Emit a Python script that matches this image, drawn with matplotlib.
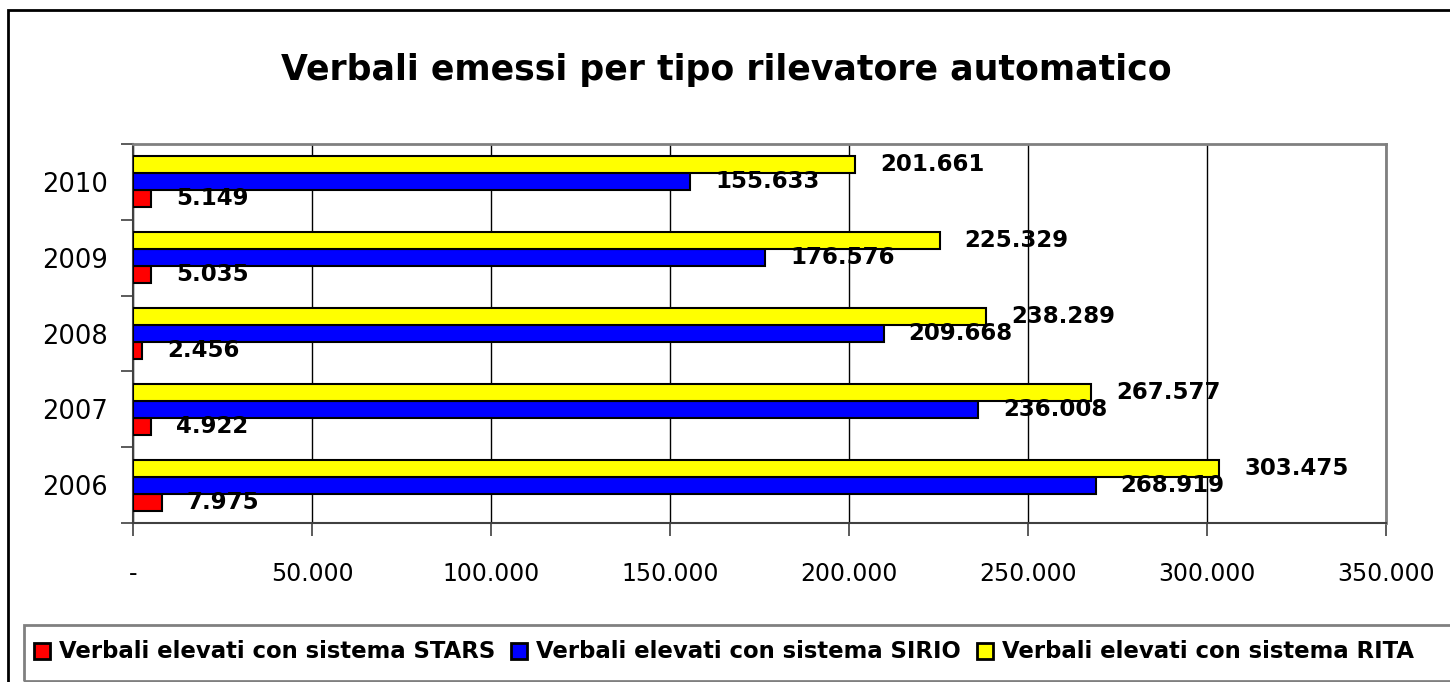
import matplotlib
matplotlib.use("Agg")
import matplotlib.pyplot as plt
from matplotlib.patches import Rectangle
from matplotlib.ticker import FuncFormatter
import numpy as np

# dati
anni = ["2006", "2007", "2008", "2009", "2010"]
stars = [7975, 4922, 2456, 5035, 5149]
sirio = [268919, 236008, 209668, 176576, 155633]
rita = [303475, 267577, 238289, 225329, 201661]

serie = [
    ("Verbali elevati con sistema STARS", stars, "#FF0000"),
    ("Verbali elevati con sistema SIRIO", sirio, "#0000FF"),
    ("Verbali elevati con sistema RITA", rita, "#FFFF00"),
]


def fmt_it(v):
    return f"{int(v):,}".replace(",", ".")


plt.rcParams["font.family"] = ["DejaVu Sans"]

fig = plt.figure(figsize=(14.5, 6.82), dpi=100)
ax = fig.add_axes([133 / 1450, 1 - 523 / 682, (1386 - 133) / 1450, (523 - 144) / 682])

y = np.arange(len(anni))
h = 0.225
for i, (nome, vals, col) in enumerate(serie):
    pos = y + (i - 1) * h
    ax.barh(pos, vals, height=h, color=col, edgecolor="black", linewidth=1.5,
            label=nome, zorder=3)
    for p, v in zip(pos, vals):
        ax.annotate(fmt_it(v), (v, p), xytext=(18, 0), textcoords="offset points",
                    ha="left", va="center", fontsize=16.5, fontweight="bold", zorder=4)

ax.set_xlim(0, 350000)
ax.set_ylim(-0.5, len(anni) - 0.5)
ax.set_xticks(np.arange(0, 350001, 50000))
ax.xaxis.set_major_formatter(FuncFormatter(lambda v, _: "-" if v == 0 else fmt_it(v)))
ax.tick_params(axis="x", length=9, width=1.2, pad=19, labelsize=17, color="#404040")

# tacche tra le categorie, etichette al centro
ax.set_yticks(np.arange(-0.5, len(anni), 1.0))
ax.set_yticklabels([])
ax.set_yticks(y, minor=True)
ax.set_yticklabels(anni, minor=True)
ax.tick_params(axis="y", which="major", length=9, width=1.2, color="#404040")
ax.tick_params(axis="y", which="minor", length=0, pad=18, labelsize=18.5)

ax.grid(axis="x", color="black", linewidth=1, zorder=0)
for s in ["top", "right"]:
    ax.spines[s].set_color("#808080")
    ax.spines[s].set_linewidth(2)
for s in ["left", "bottom"]:
    ax.spines[s].set_color("#404040")
    ax.spines[s].set_linewidth(1.5)

fig.text(726 / 1450, 1 - 70 / 682, "Verbali emessi per tipo rilevatore automatico",
         ha="center", va="center", fontsize=25, fontweight="bold")

# bordo esterno e riquadro legenda
fig.add_artist(Rectangle((8 / 1450, -0.1), 1.2, 1.1 - 10 / 682, transform=fig.transFigure,
                         fill=False, edgecolor="black", linewidth=2))
fig.add_artist(Rectangle((24 / 1450, 1 - 681 / 682), 1.2, (681 - 625) / 682,
                         transform=fig.transFigure, fill=False, edgecolor="#808080",
                         linewidth=2))

leg = fig.legend(loc="center left", bbox_to_anchor=(34 / 1450, 1 - 652 / 682), ncol=3,
                 frameon=False, prop={"size": 16.4, "weight": "bold"},
                 handlelength=0.7, handleheight=0.7, handletextpad=0.4,
                 columnspacing=0.7, borderaxespad=0, borderpad=0)
for p in leg.get_patches():
    p.set_linewidth(2)

fig.savefig("out.png", dpi=100)
